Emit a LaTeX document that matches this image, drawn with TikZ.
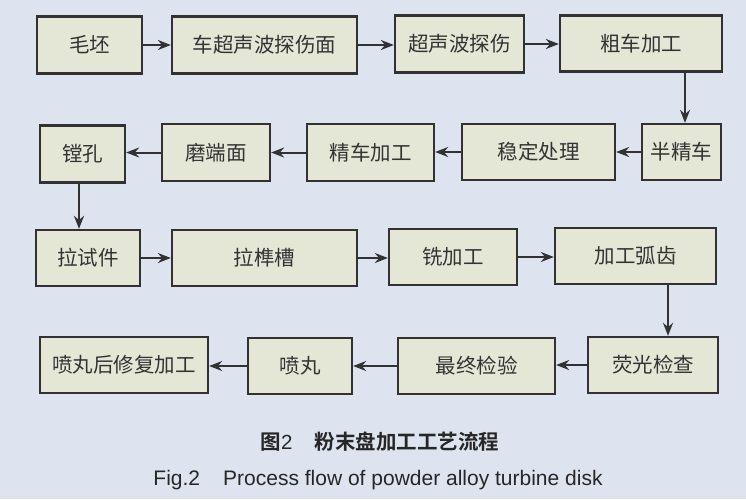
\documentclass[tikz,border=0pt]{standalone}
\usepackage{fontspec}
\setmainfont{Liberation Sans}
\newfontfamily\cjk{Noto Sans CJK SC}
\newfontfamily\cjkb{Noto Sans CJK SC Bold}
\usetikzlibrary{arrows.meta}
\definecolor{bgc}{RGB}{221,228,240}
\definecolor{boxc}{RGB}{229,231,214}
\definecolor{linec}{RGB}{50,50,50}
\tikzset{
  stepbox/.style={draw=linec, line width=2.3pt, fill=boxc, inner sep=0pt,
    font=\cjk\fontsize{20.5}{20.5}\selectfont, text=black!80},
  arr/.style={draw=linec, line width=2pt, -{Stealth[length=13pt,width=10pt]}}
}
\newcommand{\bx}[6]{\node[stepbox, minimum width=#4pt, minimum height=#5pt] (#1) at (#2pt,-#3pt) {#6};}
\begin{document}
\begin{tikzpicture}
\fill[bgc] (0,0) rectangle (746pt,-499pt);
\useasboundingbox (0,0) rectangle (746pt,-499pt);
% row 1
\bx{mao}{89.5}{45}{105}{57}{毛坯}
\bx{che}{264.5}{45}{185}{57}{车超声波探伤面}
\bx{chao}{459.5}{44}{129}{57}{超声波探伤}
\bx{cu}{641}{43.5}{162}{56}{粗车加工}
% row 2
\bx{ban}{681.5}{152}{79}{56}{半精车}
\bx{wen}{538.5}{152}{153}{56}{稳定处理}
\bx{jing}{370.5}{152.5}{127}{57}{精车加工}
\bx{mo}{216}{152.5}{108}{57}{磨端面}
\bx{tang}{82.5}{154}{85}{57}{镗孔}
% row 3
\bx{la}{88}{258}{104}{56}{拉试件}
\bx{lasun}{264.5}{258}{185}{56}{拉榫槽}
\bx{xi}{453}{257}{128}{56}{铣加工}
\bx{hu}{635.5}{256}{161}{56}{加工弧齿}
% row 4
\bx{ying}{653}{365}{130}{56}{荧光检查}
\bx{zui}{476.5}{366}{157}{56}{最终检验}
\bx{pen}{300}{366}{104}{56}{喷丸}
\bx{penhou}{124}{365}{168}{56}{喷丸后修复加工}
% arrows
\draw[arr] (mao.east) -- (mao.east -| che.west);
\draw[arr] (che.east) -- (che.east -| chao.west);
\draw[arr] (chao.east) -- (chao.east -| cu.west);
\draw[arr] ([xshift=3.5pt]ban.north |- cu.south) -- ([xshift=3.5pt]ban.north);
\draw[arr] (ban.west) -- (ban.west -| wen.east);
\draw[arr] (wen.west) -- (wen.west -| jing.east);
\draw[arr] (jing.west) -- (jing.west -| mo.east);
\draw[arr] (mo.west) -- (mo.west -| tang.east);
\draw[arr] ([xshift=-3.5pt]tang.south) -- ([xshift=-3.5pt]tang.south |- la.north);
\draw[arr] (la.east) -- (la.east -| lasun.west);
\draw[arr] (lasun.east) -- (lasun.east -| xi.west);
\draw[arr] (xi.east) -- (xi.east -| hu.west);
\draw[arr] ([xshift=15pt]ying.north |- hu.south) -- ([xshift=15pt]ying.north);
\draw[arr] (ying.west) -- (ying.west -| zui.east);
\draw[arr] (zui.west) -- (zui.west -| pen.east);
\draw[arr] (pen.west) -- (pen.west -| penhou.east);
% captions
\node[font=\fontsize{20.5}{20.5}\selectfont, text=black!85] (cap1) at (380pt,-442pt) {{\cjkb 图}2\hspace{1.1em}{\cjkb 粉末盘加工工艺流程}};
\node[font=\fontsize{21}{21}\selectfont, text=black!85] (cap2) at (378pt,-480pt) {Fig.2\hspace{1.1em}Process flow of powder alloy turbine disk};
\end{tikzpicture}
\end{document}
